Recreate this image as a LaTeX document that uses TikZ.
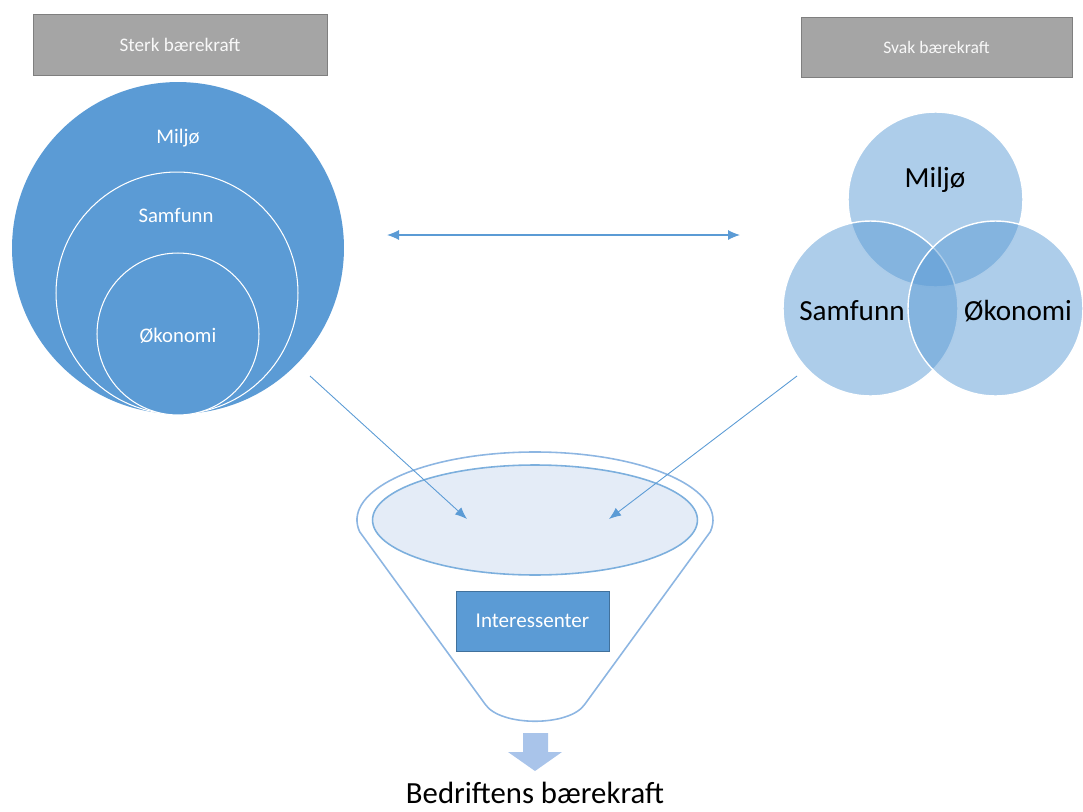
\documentclass[tikz,border=0pt]{standalone}
\usepackage{fontspec}
\setmainfont{Carlito}
\usetikzlibrary{arrows.meta,shapes.geometric}
\definecolor{blaa}{HTML}{5B9BD5}
\definecolor{blaamork}{HTML}{41719C}
\definecolor{graa}{HTML}{A5A5A5}
\definecolor{graakant}{HTML}{7F7F7F}
\definecolor{traktkant}{HTML}{8DB6E2}
\definecolor{lysblaa}{HTML}{E4ECF7}
\definecolor{pilblaa}{HTML}{A9C4EA}
\begin{document}
\begin{tikzpicture}[x=0.02cm,y=-0.02cm,
  tittel/.style={draw=graakant, fill=graa, text=white!92!graa},
  ring/.style={circle, draw=white, line width=0.6pt, fill=blaa, inner sep=0pt, minimum size=#1},
  venn/.style={circle, draw=white, line width=0.8pt, fill=blaa, fill opacity=0.5, inner sep=0pt, minimum size=3.5cm},
  hvit/.style={text=white, font=\fontsize{11.8}{13}\selectfont},
  svart/.style={text=black, font=\fontsize{16.6}{19}\selectfont},
  tynn/.style={draw=blaa, line width=0.5pt, -{Latex[length=2.4mm,width=1.9mm]}}]
\useasboundingbox (0,0) rectangle (1083,812);
% overskrifter
\node[tittel, minimum width=5.88cm, minimum height=1.22cm, font=\fontsize{10.9}{12}\selectfont] (sterk) at (180,44.5) {Sterk bærekraft};
\node[tittel, minimum width=5.42cm, minimum height=1.2cm, font=\fontsize{10}{12}\selectfont] (svak) at (936.5,47) {Svak bærekraft};
% sterk baerekraft
\node[ring=6.64cm, draw=none] (miljo) at (178,248) {};
\node[ring=4.84cm] (samf) at (177,293) {};
\node[ring=3.24cm] (okon) at (178,334) {};
\node[hvit] at (178,138) {Miljø};
\node[hvit] at (176,215) {Samfunn};
\node[hvit] at (178,336) {Økonomi};
% svak baerekraft
\node[venn] (vmiljo) at (935.5,199.5) {};
\node[venn] (vsamf) at (870.5,308.5) {};
\node[venn] (vokon) at (995.5,308.5) {};
\node[svart] at (935,180) {Miljø};
\node[svart] at (852,311) {Samfunn};
\node[svart] at (1018,311) {Økonomi};
% trakt
\path[draw=traktkant, line width=0.9pt] (359.7,531.8) arc[start angle=170, end angle=370, x radius=178, y radius=68]
  -- (585,704)
  .. controls (570,727) and (500,727) .. (485,704) -- cycle;
\node[ellipse, draw=blaa!80, line width=0.9pt, fill=lysblaa, minimum width=6.5cm, minimum height=2.2cm] (skaal) at (535,520) {};
\node[draw=blaamork, fill=blaa, text=white, minimum width=3.06cm, minimum height=1.2cm, font=\fontsize{12}{14}\selectfont] (inter) at (532.5,621) {Interessenter};
% piler
\coordinate (v1) at (387,235);
\coordinate (h1) at (740,235);
\path[draw=blaa, line width=0.6pt, {Latex[length=2.4mm,width=2mm]}-{Latex[length=2.4mm,width=2mm]}] (v1) -- (h1);
\coordinate (s1) at (310,376);
\coordinate (s2) at (467,519);
\coordinate (w1) at (797,376);
\coordinate (w2) at (609,519);
\path[tynn] (s1) -- (s2);
\path[tynn] (w1) -- (w2);
\fill[pilblaa] (523,733) -- (548,733) -- (548,752) -- (562,752) -- (535,771) -- (508,752) -- (523,752) -- cycle;
\node[svart, font=\fontsize{17.5}{20}\selectfont, inner sep=0pt, anchor=base] (bedrift) at (535,803) {Bedriftens bærekraft};
\end{tikzpicture}
\end{document}
